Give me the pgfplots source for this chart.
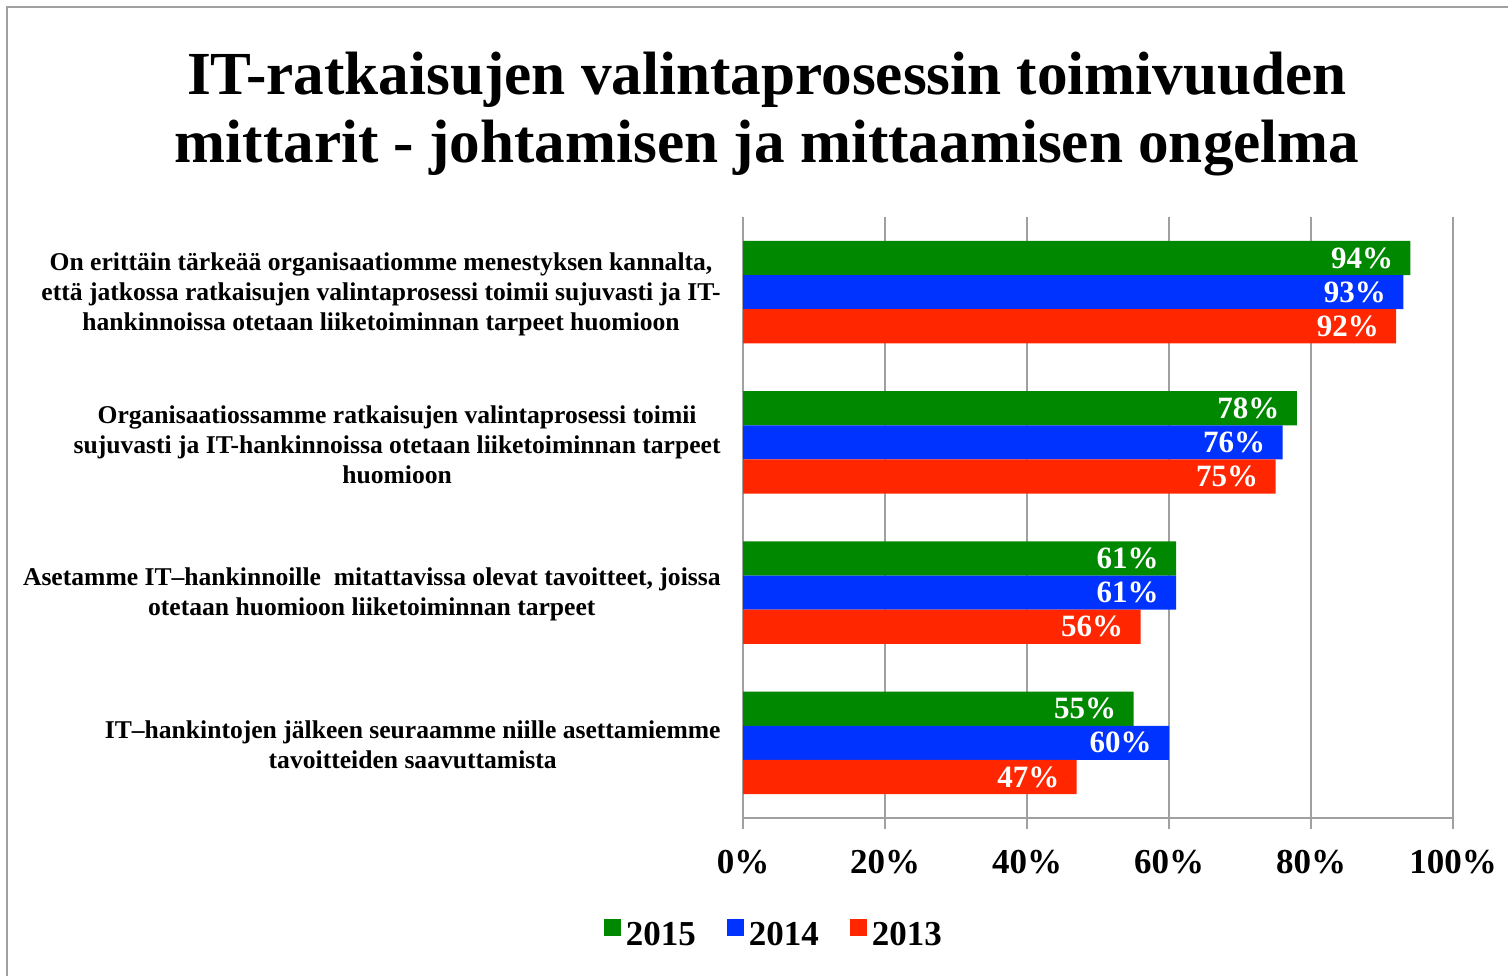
\documentclass[border=0pt]{standalone}
\usepackage{pgfplots}
\usepackage{pgfplotstable}
\pgfplotsset{compat=1.18}
\usepackage{fontspec}
\setmainfont{Liberation Serif}
\definecolor{cgreen}{RGB}{0,137,0}
\definecolor{cblue}{RGB}{0,51,255}
\definecolor{cred}{RGB}{255,38,0}
\definecolor{cgrid}{RGB}{160,160,160}
\pgfplotsset{sq legend/.style={legend image code/.code={\fill[##1] (0.75pt,-0.25pt) rectangle (9.25pt,8.25pt);}}}
\pgfplotstableread{
y x
0 94
1 78
2 61
3 55
}\greendata
\pgfplotstableread{
y x
0 93
1 76
2 61
3 60
}\bluedata
\pgfplotstableread{
y x
0 92
1 75
2 56
3 47
}\reddata
\begin{document}
\begin{tikzpicture}[x=0.5pt,y=0.5pt]
\useasboundingbox (0,0) rectangle (1508,976);
\draw[cgrid, line width=1pt] (7,0) -- (7,969) -- (1508,969);
\node[anchor=base, inner sep=0pt, font=\fontsize{30.6}{34}\selectfont\bfseries] at (767,881) {IT-ratkaisujen valintaprosessin toimivuuden};
\node[anchor=base, inner sep=0pt, font=\fontsize{30.6}{34}\selectfont\bfseries] at (767,813) {mittarit - johtamisen ja mittaamisen ongelma};
\begin{axis}[
  at={(371.5pt,79pt)}, anchor=south west,
  scale only axis, width=355pt, height=300.5pt,
  xbar, bar width=0.227,
  xmin=0, xmax=100, ymin=-0.5, ymax=3.5, y dir=reverse,
  axis x line*=bottom, axis y line*=left,
  axis line style={cgrid, line width=1pt, -},
  tick align=outside, major tick length=5.5pt,
  tick style={cgrid, line width=1pt},
  xtick={0,20,40,60,80,100},
  xticklabel={\pgfmathprintnumber{\tick}\%},
  xticklabel style={font=\fontsize{17.5}{20}\selectfont\bfseries, inner sep=0pt, anchor=north, yshift=-10.5pt},
  /pgf/number format/assume math mode=true,
  xmajorgrids, major grid style={cgrid, line width=1pt},
  ytick={0,1,2,3},
  ytick style={draw=none},
  yticklabels={{On erittäin tärkeää organisaatiomme menestyksen kannalta,\\että jatkossa ratkaisujen valintaprosessi toimii sujuvasti ja IT-\\hankinnoissa otetaan liiketoiminnan tarpeet huomioon},
    {Organisaatiossamme ratkaisujen valintaprosessi toimii\\sujuvasti ja IT-hankinnoissa otetaan liiketoiminnan tarpeet\\huomioon},
    {Asetamme IT–hankinnoille\ \ mitattavissa olevat tavoitteet, joissa\\otetaan huomioon liiketoiminnan tarpeet},
    {IT–hankintojen jälkeen seuraamme niille asettamiemme\\tavoitteiden saavuttamista}},
  yticklabel style={font=\fontsize{12.8}{15}\selectfont\bfseries, align=center, anchor=east, inner sep=0pt, xshift=-5.5pt, yshift=-1pt},
  extra y ticks={-0.5,0.5,1.5,2.5,3.5},
  extra y tick labels={},
  extra y tick style={major tick length=3pt, tick style={draw=cgrid, line width=1pt}},
  nodes near coords={\pgfmathprintnumber{\pgfplotspointmeta}\%},
  point meta=x,
  every node near coord/.append style={font=\fontsize{15.5}{18}\selectfont\bfseries, text=white, anchor=east, inner sep=0pt, xshift=-8.5pt},
  legend columns=3,
  legend style={at={(rel axis cs:0.0455,-0.196)}, anchor=center, draw=none, fill=none,
    font=\fontsize{17.5}{20}\selectfont\bfseries,
    /tikz/every even column/.append style={column sep=13pt},
    nodes={inner sep=2.5pt}},
]
\addplot[fill=cgreen, draw=none, bar shift=-0.227, sq legend] table[x=x,y=y] {\greendata};
\addplot[fill=cblue, draw=none, bar shift=0, sq legend] table[x=x,y=y] {\bluedata};
\addplot[fill=cred, draw=none, bar shift=0.227, sq legend] table[x=x,y=y] {\reddata};
\legend{2015,2014,2013}
\end{axis}
\end{tikzpicture}
\end{document}
